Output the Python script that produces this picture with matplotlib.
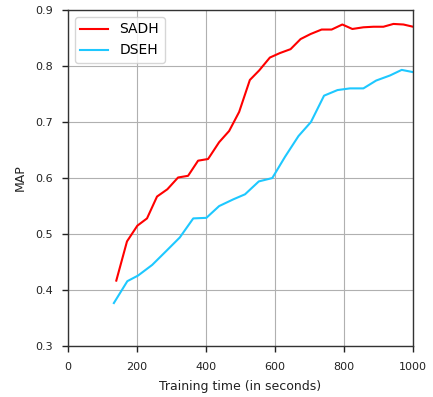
import matplotlib
matplotlib.use("Agg")
import matplotlib.pyplot as plt

# Training time (s) and MAP for each method
sadh_time = [140, 171, 201, 229, 258, 288, 319, 348, 377, 406, 438, 467, 496,
             527, 554, 585, 614, 645, 674, 703, 735, 764, 795, 824, 856, 885,
             914, 943, 972, 1000]
sadh_map = [0.417, 0.487, 0.515, 0.528, 0.567, 0.580, 0.601, 0.604, 0.631,
            0.634, 0.664, 0.684, 0.718, 0.775, 0.792, 0.815, 0.823, 0.830,
            0.848, 0.857, 0.865, 0.865, 0.874, 0.866, 0.869, 0.870, 0.870,
            0.875, 0.874, 0.870]

dseh_time = [133, 172, 203, 244, 285, 324, 363, 401, 438, 479, 513, 553, 592,
             629, 668, 704, 742, 781, 817, 856, 893, 933, 967, 1000]
dseh_map = [0.377, 0.416, 0.426, 0.445, 0.470, 0.494, 0.528, 0.529, 0.550,
            0.562, 0.571, 0.594, 0.600, 0.638, 0.675, 0.700, 0.747, 0.757,
            0.760, 0.760, 0.774, 0.783, 0.793, 0.789]

x_ticks = [0, 200, 400, 600, 800, 1000]
y_ticks = [0.3, 0.4, 0.5, 0.6, 0.7, 0.8, 0.9]

fig = plt.figure(figsize=(4.33, 3.97), dpi=100)
ax = fig.add_axes([0.157, 0.128, 0.797, 0.847])

ax.plot(sadh_time, sadh_map, color="#ff0000", lw=1.5, label="SADH")
ax.plot(dseh_time, dseh_map, color="#1ec8ff", lw=1.5, label="DSEH")

ax.set_xlim(0, 1000)
ax.set_ylim(0.3, 0.9)
ax.set_xticks(x_ticks)
ax.set_yticks(y_ticks)
ax.set_xticklabels([str(v) for v in x_ticks])
ax.set_yticklabels([f"{v:.1f}" for v in y_ticks])
ax.tick_params(labelsize=8, colors="#222222", length=4.5, width=1)
ax.tick_params(axis="x", pad=7)
ax.tick_params(axis="y", pad=6.5)
ax.grid(True, color="#b0b0b0", lw=0.8)
for s in ax.spines.values():
    s.set_color("#333333")
    s.set_linewidth(1.0)

ax.set_xlabel("Training time (in seconds)", fontsize=9, color="#222222",
              labelpad=6)
ax.set_ylabel("MAP", fontsize=9, color="#222222", labelpad=6)

ax.legend(loc="upper left", fontsize=10, frameon=True, fancybox=True,
          framealpha=0.8, edgecolor="#cccccc")

fig.savefig("out.png", dpi=100)
